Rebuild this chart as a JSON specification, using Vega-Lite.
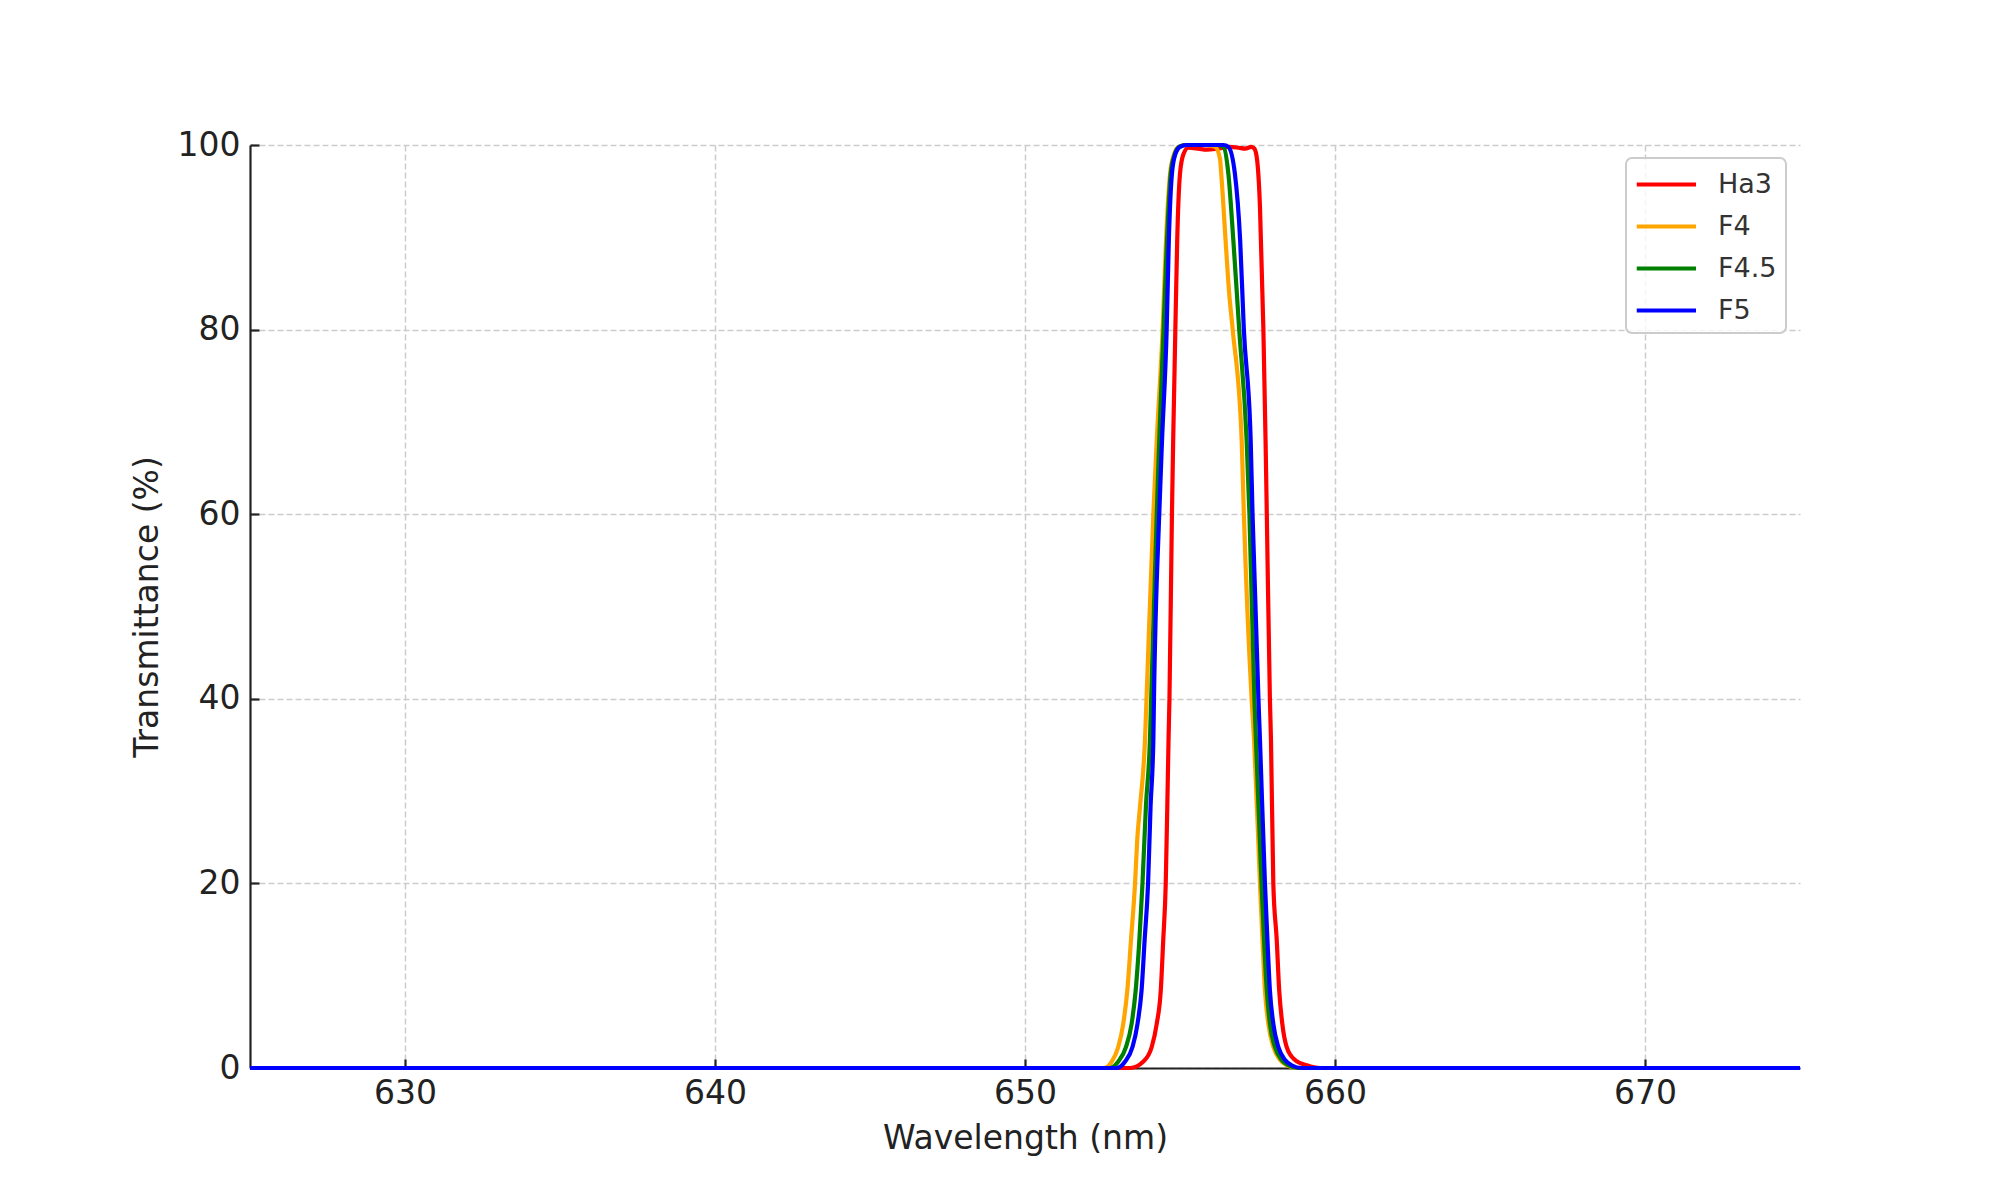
{
  "$schema": "https://vega.github.io/schema/vega-lite/v6.json",
  "width": 1550,
  "height": 923,
  "autosize": {"type": "none"},
  "padding": {"left": 250, "top": 145, "right": 200, "bottom": 132},
  "background": "white",
  "config": {
    "font": "DejaVu Sans",
    "view": {"stroke": null},
    "legend": {"strokeWidth": 2},
    "axis": {
      "labelFont": "DejaVu Sans",
      "titleFont": "DejaVu Sans",
      "labelFontSize": 33,
      "titleFontSize": 33,
      "titleFontWeight": "normal",
      "labelColor": "#222222",
      "titleColor": "#222222",
      "domainColor": "#222222",
      "domainWidth": 2.2,
      "tickColor": "#222222",
      "tickWidth": 2.2,
      "tickSize": -9,
      "gridColor": "#cccccc",
      "gridWidth": 1.5,
      "gridDash": [6, 3]
    }
  },
  "data": {
    "values": [
      {"s": "Ha3", "w": 625, "t": 0},
      {"s": "Ha3", "w": 653.39, "t": 0},
      {"s": "Ha3", "w": 653.82, "t": 0.7},
      {"s": "Ha3", "w": 654.09, "t": 2.3},
      {"s": "Ha3", "w": 654.25, "t": 4.8},
      {"s": "Ha3", "w": 654.38, "t": 8.4},
      {"s": "Ha3", "w": 654.46, "t": 13.9},
      {"s": "Ha3", "w": 654.54, "t": 20},
      {"s": "Ha3", "w": 654.59, "t": 28.3},
      {"s": "Ha3", "w": 654.63, "t": 35.5},
      {"s": "Ha3", "w": 654.66, "t": 40},
      {"s": "Ha3", "w": 654.74, "t": 60},
      {"s": "Ha3", "w": 654.78, "t": 68},
      {"s": "Ha3", "w": 654.85, "t": 80},
      {"s": "Ha3", "w": 654.91, "t": 89.7},
      {"s": "Ha3", "w": 655.0, "t": 96.9},
      {"s": "Ha3", "w": 655.11, "t": 99},
      {"s": "Ha3", "w": 655.27, "t": 99.7},
      {"s": "Ha3", "w": 655.6, "t": 99.6},
      {"s": "Ha3", "w": 655.86, "t": 99.5},
      {"s": "Ha3", "w": 656.2, "t": 99.6},
      {"s": "Ha3", "w": 656.6, "t": 99.8},
      {"s": "Ha3", "w": 656.9, "t": 99.7},
      {"s": "Ha3", "w": 657.1, "t": 99.6},
      {"s": "Ha3", "w": 657.3, "t": 99.8},
      {"s": "Ha3", "w": 657.4, "t": 99.6},
      {"s": "Ha3", "w": 657.49, "t": 98.3},
      {"s": "Ha3", "w": 657.58, "t": 93.3},
      {"s": "Ha3", "w": 657.69, "t": 80},
      {"s": "Ha3", "w": 657.76, "t": 68},
      {"s": "Ha3", "w": 657.8, "t": 60},
      {"s": "Ha3", "w": 657.9, "t": 40},
      {"s": "Ha3", "w": 657.935, "t": 35.5},
      {"s": "Ha3", "w": 658.01, "t": 20},
      {"s": "Ha3", "w": 658.12, "t": 13.9},
      {"s": "Ha3", "w": 658.2, "t": 8.4},
      {"s": "Ha3", "w": 658.3, "t": 4.8},
      {"s": "Ha3", "w": 658.44, "t": 2.3},
      {"s": "Ha3", "w": 658.71, "t": 0.87},
      {"s": "Ha3", "w": 659.09, "t": 0.3},
      {"s": "Ha3", "w": 659.52, "t": 0},
      {"s": "Ha3", "w": 675, "t": 0},

      {"s": "F4", "w": 625, "t": 0},
      {"s": "F4", "w": 652.53, "t": 0},
      {"s": "F4", "w": 652.8, "t": 0.7},
      {"s": "F4", "w": 653.01, "t": 2.3},
      {"s": "F4", "w": 653.17, "t": 4.8},
      {"s": "F4", "w": 653.3, "t": 8.4},
      {"s": "F4", "w": 653.42, "t": 13.9},
      {"s": "F4", "w": 653.55, "t": 20},
      {"s": "F4", "w": 653.62, "t": 24.7},
      {"s": "F4", "w": 653.71, "t": 28.3},
      {"s": "F4", "w": 653.87, "t": 35.5},
      {"s": "F4", "w": 653.92, "t": 40},
      {"s": "F4", "w": 654.14, "t": 60},
      {"s": "F4", "w": 654.25, "t": 68},
      {"s": "F4", "w": 654.44, "t": 80},
      {"s": "F4", "w": 654.55, "t": 89.7},
      {"s": "F4", "w": 654.68, "t": 96.9},
      {"s": "F4", "w": 654.81, "t": 99},
      {"s": "F4", "w": 654.95, "t": 99.8},
      {"s": "F4", "w": 655.2, "t": 100},
      {"s": "F4", "w": 655.8, "t": 100},
      {"s": "F4", "w": 656.13, "t": 99.8},
      {"s": "F4", "w": 656.29, "t": 98.5},
      {"s": "F4", "w": 656.33, "t": 96.9},
      {"s": "F4", "w": 656.47, "t": 89.7},
      {"s": "F4", "w": 656.58, "t": 84.2},
      {"s": "F4", "w": 656.7, "t": 80},
      {"s": "F4", "w": 656.99, "t": 68},
      {"s": "F4", "w": 657.06, "t": 60},
      {"s": "F4", "w": 657.31, "t": 40},
      {"s": "F4", "w": 657.39, "t": 35.5},
      {"s": "F4", "w": 657.58, "t": 20},
      {"s": "F4", "w": 657.66, "t": 13.9},
      {"s": "F4", "w": 657.74, "t": 8.4},
      {"s": "F4", "w": 657.85, "t": 4.8},
      {"s": "F4", "w": 658.01, "t": 2.3},
      {"s": "F4", "w": 658.23, "t": 0.87},
      {"s": "F4", "w": 658.44, "t": 0.3},
      {"s": "F4", "w": 658.76, "t": 0},
      {"s": "F4", "w": 675, "t": 0},

      {"s": "F4.5", "w": 625, "t": 0},
      {"s": "F4.5", "w": 652.74, "t": 0},
      {"s": "F4.5", "w": 653.01, "t": 0.7},
      {"s": "F4.5", "w": 653.26, "t": 2.3},
      {"s": "F4.5", "w": 653.44, "t": 4.8},
      {"s": "F4.5", "w": 653.57, "t": 8.4},
      {"s": "F4.5", "w": 653.69, "t": 13.9},
      {"s": "F4.5", "w": 653.79, "t": 20},
      {"s": "F4.5", "w": 653.9, "t": 28.3},
      {"s": "F4.5", "w": 654.03, "t": 35.5},
      {"s": "F4.5", "w": 654.07, "t": 40},
      {"s": "F4.5", "w": 654.25, "t": 60},
      {"s": "F4.5", "w": 654.33, "t": 68},
      {"s": "F4.5", "w": 654.47, "t": 80},
      {"s": "F4.5", "w": 654.58, "t": 89.7},
      {"s": "F4.5", "w": 654.7, "t": 96.9},
      {"s": "F4.5", "w": 654.83, "t": 99},
      {"s": "F4.5", "w": 654.97, "t": 99.8},
      {"s": "F4.5", "w": 655.2, "t": 100},
      {"s": "F4.5", "w": 656.2, "t": 100},
      {"s": "F4.5", "w": 656.4, "t": 99.8},
      {"s": "F4.5", "w": 656.56, "t": 96.9},
      {"s": "F4.5", "w": 656.72, "t": 89.7},
      {"s": "F4.5", "w": 656.91, "t": 80},
      {"s": "F4.5", "w": 657.15, "t": 68},
      {"s": "F4.5", "w": 657.24, "t": 60},
      {"s": "F4.5", "w": 657.4, "t": 40},
      {"s": "F4.5", "w": 657.45, "t": 35.5},
      {"s": "F4.5", "w": 657.63, "t": 20},
      {"s": "F4.5", "w": 657.71, "t": 13.9},
      {"s": "F4.5", "w": 657.8, "t": 8.4},
      {"s": "F4.5", "w": 657.9, "t": 4.8},
      {"s": "F4.5", "w": 658.06, "t": 2.3},
      {"s": "F4.5", "w": 658.28, "t": 0.87},
      {"s": "F4.5", "w": 658.49, "t": 0.3},
      {"s": "F4.5", "w": 658.81, "t": 0},
      {"s": "F4.5", "w": 675, "t": 0},

      {"s": "F5", "w": 625, "t": 0},
      {"s": "F5", "w": 652.96, "t": 0},
      {"s": "F5", "w": 653.23, "t": 0.7},
      {"s": "F5", "w": 653.47, "t": 2.3},
      {"s": "F5", "w": 653.63, "t": 4.8},
      {"s": "F5", "w": 653.76, "t": 8.4},
      {"s": "F5", "w": 653.86, "t": 13.9},
      {"s": "F5", "w": 653.97, "t": 20},
      {"s": "F5", "w": 654.05, "t": 28.3},
      {"s": "F5", "w": 654.14, "t": 35.5},
      {"s": "F5", "w": 654.16, "t": 40},
      {"s": "F5", "w": 654.33, "t": 60},
      {"s": "F5", "w": 654.42, "t": 68},
      {"s": "F5", "w": 654.57, "t": 80},
      {"s": "F5", "w": 654.64, "t": 89.7},
      {"s": "F5", "w": 654.74, "t": 96.9},
      {"s": "F5", "w": 654.85, "t": 99},
      {"s": "F5", "w": 655.0, "t": 99.8},
      {"s": "F5", "w": 655.2, "t": 100},
      {"s": "F5", "w": 656.4, "t": 100},
      {"s": "F5", "w": 656.56, "t": 99.8},
      {"s": "F5", "w": 656.77, "t": 96.9},
      {"s": "F5", "w": 656.94, "t": 89.7},
      {"s": "F5", "w": 657.06, "t": 80},
      {"s": "F5", "w": 657.28, "t": 68},
      {"s": "F5", "w": 657.34, "t": 60},
      {"s": "F5", "w": 657.53, "t": 40},
      {"s": "F5", "w": 657.58, "t": 35.5},
      {"s": "F5", "w": 657.74, "t": 20},
      {"s": "F5", "w": 657.82, "t": 13.9},
      {"s": "F5", "w": 657.9, "t": 8.4},
      {"s": "F5", "w": 658.01, "t": 4.8},
      {"s": "F5", "w": 658.17, "t": 2.3},
      {"s": "F5", "w": 658.39, "t": 0.87},
      {"s": "F5", "w": 658.6, "t": 0.3},
      {"s": "F5", "w": 658.92, "t": 0},
      {"s": "F5", "w": 675, "t": 0}
    ]
  },
  "mark": {"type": "line", "interpolate": "monotone", "strokeWidth": 4.2, "clip": false},
  "encoding": {
    "x": {
      "field": "w",
      "type": "quantitative",
      "scale": {"domain": [625, 675], "nice": false, "zero": false},
      "axis": {
        "title": "Wavelength (nm)",
        "values": [630, 640, 650, 660, 670],
        "format": "d",
        "labelPadding": 18,
        "titlePadding": 12
      }
    },
    "y": {
      "field": "t",
      "type": "quantitative",
      "scale": {"domain": [0, 100], "nice": false},
      "axis": {
        "title": "Transmittance (%)",
        "values": [0, 20, 40, 60, 80, 100],
        "labelPadding": 19,
        "titlePadding": 13
      }
    },
    "color": {
      "field": "s",
      "type": "nominal",
      "scale": {"domain": ["Ha3", "F4", "F4.5", "F5"], "range": ["#ff0000", "#ffa500", "#008000", "#0000ff"]},
      "legend": {
        "title": null,
        "orient": "none",
        "legendX": 1376,
        "legendY": 13,
        "symbolType": "M-1.05,0H2.9",
        "symbolSize": 900,
        "symbolStrokeWidth": 4.2,
        "labelFontSize": 27,
        "labelFont": "DejaVu Sans",
        "labelColor": "#333333",
        "labelOffset": 48,
        "rowPadding": 11,
        "padding": 9,
        "strokeColor": "#cccccc",
        "cornerRadius": 6,
        "fillColor": "rgba(255,255,255,0.8)"
      }
    }
  }
}
